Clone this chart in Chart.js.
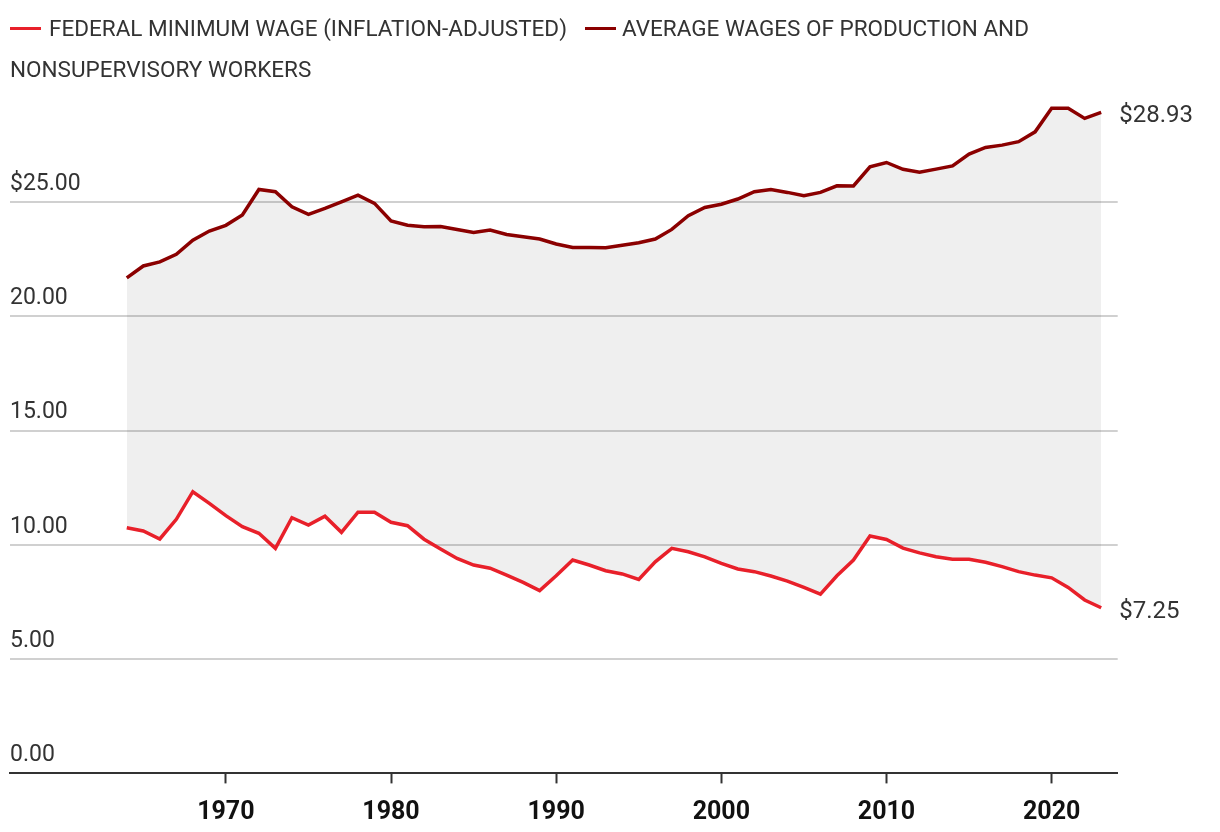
<!DOCTYPE html>
<html>
<head>
<meta charset="utf-8">
<script src="https://cdn.jsdelivr.net/npm/chart.js@4.4.1/dist/chart.umd.min.js"></script>
<style>
html,body{margin:0;padding:0;background:#fff;}
#wrap{position:relative;width:1220px;height:832px;overflow:hidden;}
#c{position:absolute;left:0;top:0;}
#legend{position:absolute;left:10px;top:8px;font-family:Roboto,sans-serif;font-size:22.5px;line-height:41px;color:#333;white-space:nowrap;}
.sw{display:inline-block;width:31px;height:3px;vertical-align:middle;margin-right:8px;position:relative;top:-2px;}
.item2{margin-left:18px;margin-right:6px;}
</style>
</head>
<body>
<div id="wrap">
  <canvas id="c" width="1220" height="832"></canvas>
  <div id="legend"></div>
</div>
<script>
// ---- data ----
const years = [1964,1965,1966,1967,1968,1969,1970,1971,1972,1973,1974,1975,1976,1977,1978,1979,
  1980,1981,1982,1983,1984,1985,1986,1987,1988,1989,1990,1991,1992,1993,1994,1995,1996,1997,1998,1999,
  2000,2001,2002,2003,2004,2005,2006,2007,2008,2009,2010,2011,2012,2013,2014,2015,2016,2017,2018,2019,
  2020,2021,2022,2023];

const minWage = [10.75,10.61,10.26,11.12,12.33,11.82,11.28,10.80,10.51,9.85,11.19,10.87,11.26,10.55,11.43,11.43,
  10.99,10.84,10.25,9.82,9.41,9.12,8.98,8.68,8.36,8.00,8.65,9.34,9.12,8.87,8.73,8.49,9.26,9.85,9.70,9.48,
  9.19,8.95,8.83,8.64,8.42,8.14,7.85,8.65,9.34,10.39,10.24,9.86,9.65,9.48,9.37,9.37,9.24,9.05,8.83,8.68,
  8.56,8.14,7.59,7.25];

const avgWage = [21.69,22.21,22.39,22.72,23.34,23.74,23.99,24.44,25.56,25.46,24.80,24.47,24.73,25.02,25.31,24.95,
  24.18,23.99,23.93,23.94,23.81,23.68,23.78,23.59,23.49,23.39,23.17,23.02,23.02,23.01,23.12,23.23,23.39,23.81,24.41,24.77,
  24.91,25.14,25.46,25.56,25.43,25.28,25.43,25.72,25.71,26.55,26.74,26.44,26.31,26.45,26.59,27.11,27.40,27.50,27.65,28.08,
  29.11,29.11,28.67,28.93];

const seriesNames = ['FEDERAL MINIMUM WAGE (INFLATION-ADJUSTED)',
                     'AVERAGE WAGES OF PRODUCTION AND NONSUPERVISORY WORKERS'];
const seriesColors = ['#e8202a', '#8b0000'];

const xTickValues = [1970,1980,1990,2000,2010,2020];
const yTickValues = [0,5,10,15,20,25];
const yTickLabels = ['0.00','5.00','10.00','15.00','20.00','$25.00'];

// ---- legend (HTML, wraps like the original) ----
const lg = document.getElementById('legend');
lg.innerHTML =
  '<span class="sw" style="background:' + seriesColors[0] + '"></span>' + seriesNames[0] +
  '<span class="sw item2" style="background:' + seriesColors[1] + '"></span>' +
  seriesNames[1].replace(' NONSUPERVISORY', '<br>NONSUPERVISORY');

const toPts = arr => arr.map((v, i) => ({x: years[i], y: v}));

const endLabels = {
  id: 'endLabels',
  afterDatasetsDraw(chart) {
    const ctx = chart.ctx;
    ctx.save();
    ctx.font = '24px Roboto, sans-serif';
    ctx.fillStyle = '#333';
    ctx.textBaseline = 'middle';
    ctx.textAlign = 'left';
    chart.data.datasets.forEach((ds, i) => {
      const meta = chart.getDatasetMeta(i);
      const pt = meta.data[meta.data.length - 1];
      const v = ds.data[ds.data.length - 1].y;
      ctx.fillText('$' + v.toFixed(2), pt.x + 18, pt.y + 4);
    });
    ctx.restore();
  }
};

new Chart(document.getElementById('c'), {
  type: 'line',
  data: {
    datasets: [
      {
        label: seriesNames[0],
        data: toPts(minWage),
        borderColor: seriesColors[0],
        borderWidth: 3.5,
        pointRadius: 0,
        fill: false,
        tension: 0
      },
      {
        label: seriesNames[1],
        data: toPts(avgWage),
        borderColor: seriesColors[1],
        borderWidth: 3.5,
        pointRadius: 0,
        fill: '-1',
        backgroundColor: 'rgba(0,0,0,0.063)',
        tension: 0
      }
    ]
  },
  options: {
    responsive: false,
    animation: false,
    layout: {padding: {left: 10, right: 102.3, top: 88, bottom: 0}},
    plugins: {legend: {display: false}, tooltip: {enabled: false}},
    scales: {
      x: {
        type: 'linear',
        min: 1956.93,
        max: 2024,
        afterBuildTicks: s => { s.ticks = xTickValues.map(v => ({value: v})); },
        afterFit: s => { s.height = 58.6; },
        ticks: {
          callback: v => String(v),
          font: {family: "'Liberation Sans Narrow', Roboto, sans-serif", weight: 'bold', size: 25},
          color: '#111',
          padding: 14,
          maxRotation: 0,
          autoSkip: false
        },
        grid: {drawOnChartArea: false, drawTicks: true, tickLength: 10, tickColor: '#333', tickWidth: 2},
        border: {display: true, color: '#333', width: 2}
      },
      y: {
        type: 'linear',
        min: 0,
        max: 30,
        afterBuildTicks: s => { s.ticks = yTickValues.map(v => ({value: v})); },
        afterFit: s => { s.width = 0; },
        ticks: {
          mirror: true,
          padding: 0,
          labelOffset: -18,
          font: {family: 'Roboto, sans-serif', size: 23},
          color: '#333',
          callback: v => yTickLabels[yTickValues.indexOf(v)]
        },
        grid: {
          color: c => (c.tick && c.tick.value === 0) ? 'rgba(0,0,0,0)' : '#d0d0d0',
          lineWidth: 2,
          drawTicks: false
        },
        border: {display: false}
      }
    }
  },
  plugins: [endLabels]
});
</script>
</body>
</html>
